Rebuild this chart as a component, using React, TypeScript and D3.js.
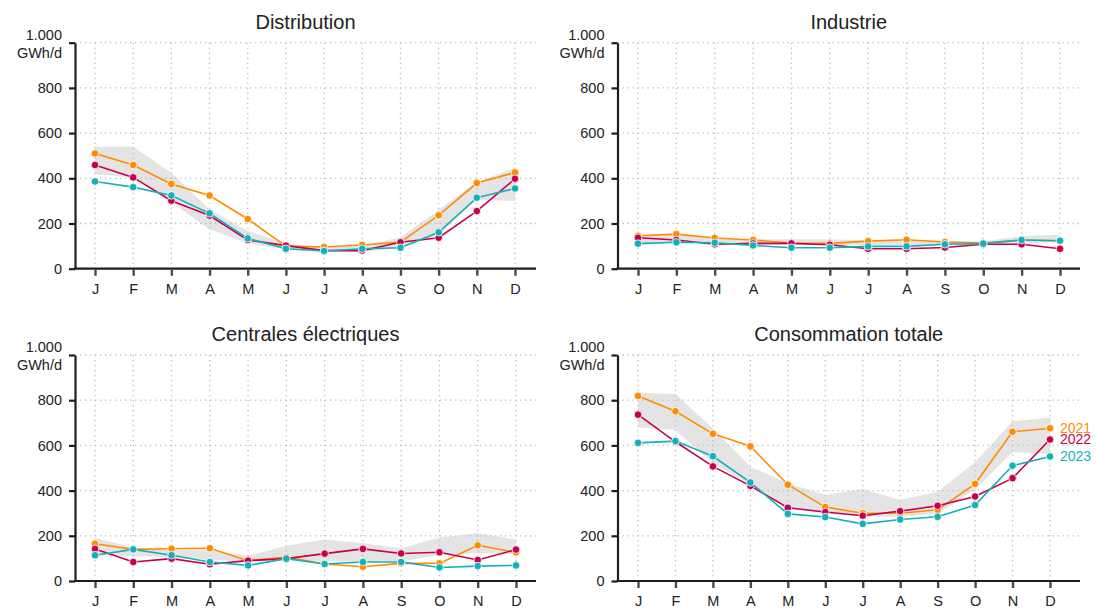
import * as d3 from "d3";
import { useEffect, useRef } from "react";

// Monate und Jahre
const months = ["J", "F", "M", "A", "M", "J", "J", "A", "S", "O", "N", "D"];
const years = ["2021", "2022", "2023"];
const colors = ["#ff8c00", "#c8004b", "#14b0b8"];
const yTicks = [0, 200, 400, 600, 800, 1000];

// Distribution
const dist2021 = [510, 459, 375, 324, 220, 100, 96, 105, 118, 236, 379, 426];
const dist2022 = [459, 404, 301, 235, 127, 102, 80, 80, 117, 137, 255, 398];
const dist2023 = [386, 361, 324, 245, 134, 88, 78, 88, 93, 161, 314, 355];
const distHigh = [540, 540, 425, 262, 167, 110, 95, 100, 139, 260, 385, 444];
const distLow = [418, 405, 294, 175, 112, 85, 75, 75, 90, 149, 304, 300];

// Industrie
const ind2021 = [146, 153, 136, 127, 114, 112, 122, 128, 118, 114, 127, 124];
const ind2022 = [137, 127, 108, 112, 112, 106, 88, 88, 94, 108, 108, 88];
const ind2023 = [111, 117, 115, 103, 93, 93, 99, 99, 108, 111, 127, 124];
const indHigh = [150, 150, 135, 130, 130, 130, 125, 125, 122, 120, 145, 150];
const indLow = [105, 118, 108, 105, 105, 105, 105, 105, 105, 110, 112, 118];

// Centrales électriques
const cen2021 = [165, 140, 143, 145, 90, 106, 75, 63, 78, 78, 158, 127];
const cen2022 = [142, 84, 99, 74, 90, 99, 121, 142, 122, 127, 93, 139];
const cen2023 = [114, 140, 114, 84, 69, 99, 75, 84, 84, 60, 66, 69];
const cenHigh = [190, 148, 137, 135, 112, 156, 184, 167, 145, 193, 211, 184];
const cenLow = [115, 110, 105, 93, 86, 93, 86, 86, 86, 115, 122, 122];

// Consommation totale
const tot2021 = [819, 751, 651, 596, 426, 327, 300, 300, 315, 430, 660, 676];
const tot2022 = [736, 616, 507, 421, 324, 305, 289, 309, 333, 374, 455, 626];
const tot2023 = [611, 619, 552, 436, 297, 283, 253, 272, 284, 336, 510, 551];
const totHigh = [833, 827, 675, 506, 432, 381, 407, 358, 395, 525, 707, 723];
const totLow = [680, 668, 521, 425, 322, 299, 285, 284, 299, 405, 571, 561];

const panels = [
    { title: "Distribution", series: [dist2021, dist2022, dist2023], high: distHigh, low: distLow, left: 75, first: 95, last: 515, right: 536, top: 42.7, bottom: 268.7, legend: false },
    { title: "Industrie", series: [ind2021, ind2022, ind2023], high: indHigh, low: indLow, left: 617.5, first: 638, last: 1060, right: 1080, top: 42.7, bottom: 268.7, legend: false },
    { title: "Centrales électriques", series: [cen2021, cen2022, cen2023], high: cenHigh, low: cenLow, left: 75, first: 95, last: 516, right: 536, top: 355, bottom: 581, legend: false },
    { title: "Consommation totale", series: [tot2021, tot2022, tot2023], high: totHigh, low: totLow, left: 617.5, first: 638, last: 1050, right: 1080, top: 355, bottom: 581, legend: true }
];

const width = 1096;
const height = 608;
const font = "'Liberation Sans', Arial, sans-serif";

const App = () => {
    const ref = useRef(null);

    useEffect(() => {
        const svg = d3.select(ref.current);
        svg.selectAll("*").remove();
        svg.attr("width", width).attr("height", height);

        panels.forEach(p => {
            const g = svg.append("g");
            const x = d3.scalePoint().domain(d3.range(12)).range([p.first, p.last]);
            const y = d3.scaleLinear().domain([0, 1000]).range([p.bottom, p.top]);

            // Band (Spannweite Vorjahre)
            const area = d3.area()
                .x((d, i) => x(i))
                .y0((d, i) => y(p.low[i]))
                .y1((d, i) => y(p.high[i]));
            g.append("path")
                .attr("d", area(p.high))
                .attr("fill", "#e4e4e4");

            // Gitter
            g.selectAll(".hgrid")
                .data(yTicks.slice(1))
                .enter()
                .append("line")
                .attr("x1", p.left)
                .attr("x2", p.right)
                .attr("y1", d => y(d))
                .attr("y2", d => y(d))
                .attr("stroke", "#bdbdbd")
                .attr("stroke-width", 1.3)
                .attr("stroke-dasharray", "1.3,3.7");
            g.selectAll(".vgrid")
                .data(d3.range(12))
                .enter()
                .append("line")
                .attr("x1", d => x(d))
                .attr("x2", d => x(d))
                .attr("y1", y(1000))
                .attr("y2", y(0))
                .attr("stroke", "#bdbdbd")
                .attr("stroke-width", 1.3)
                .attr("stroke-dasharray", "1.3,3.7");

            // Achsen
            const yAxis = d3.axisLeft(y)
                .tickValues(yTicks)
                .tickSize(6)
                .tickSizeOuter(0)
                .tickPadding(7)
                .tickFormat(d => (d === 1000 ? "" : String(d)));
            const ya = g.append("g")
                .attr("transform", `translate(${p.left},0)`)
                .call(yAxis);
            ya.select(".domain").attr("stroke", "#1e1e1e").attr("stroke-width", 2.2);
            ya.selectAll(".tick line").attr("stroke", "#1e1e1e").attr("stroke-width", 2.2);
            ya.selectAll(".tick text")
                .attr("font-size", 14.5)
                .attr("font-family", font)
                .attr("fill", "#222");

            g.append("text")
                .attr("x", p.left - 13)
                .attr("y", y(1000) - 8)
                .attr("dy", "0.35em")
                .attr("text-anchor", "end")
                .attr("font-size", 14.5)
                .attr("font-family", font)
                .attr("fill", "#222")
                .text("1.000");
            g.append("text")
                .attr("x", p.left - 13)
                .attr("y", y(1000) + 10)
                .attr("dy", "0.35em")
                .attr("text-anchor", "end")
                .attr("font-size", 14.5)
                .attr("font-family", font)
                .attr("fill", "#222")
                .text("GWh/d");

            g.append("line")
                .attr("x1", p.left - 1)
                .attr("x2", p.right)
                .attr("y1", y(0))
                .attr("y2", y(0))
                .attr("stroke", "#1e1e1e")
                .attr("stroke-width", 2.2);

            const xAxis = d3.axisBottom(x)
                .tickSize(6)
                .tickPadding(8)
                .tickFormat(i => months[i]);
            const xa = g.append("g")
                .attr("transform", `translate(0,${y(0) + 1})`)
                .call(xAxis);
            xa.select(".domain").remove();
            xa.selectAll(".tick line").attr("stroke", "#4a4a4a").attr("stroke-width", 2.4);
            xa.selectAll(".tick text")
                .attr("font-size", 14.5)
                .attr("font-family", font)
                .attr("fill", "#222");

            // Titel
            g.append("text")
                .attr("x", (p.left + p.right) / 2)
                .attr("y", p.top - 21)
                .attr("dy", "0.35em")
                .attr("text-anchor", "middle")
                .attr("font-size", 20)
                .attr("font-family", font)
                .attr("fill", "#222")
                .text(p.title);

            // Linien und Punkte
            const line = d3.line().x((d, i) => x(i)).y(d => y(d));
            p.series.forEach((s, k) => {
                g.append("path")
                    .attr("d", line(s))
                    .attr("fill", "none")
                    .attr("stroke", colors[k])
                    .attr("stroke-width", 1.6);
                g.selectAll(`.dot-${k}`)
                    .data(s)
                    .enter()
                    .append("circle")
                    .attr("cx", (d, i) => x(i))
                    .attr("cy", d => y(d))
                    .attr("r", 3.8)
                    .attr("fill", colors[k])
                    .attr("stroke", "#fff")
                    .attr("stroke-width", 0.8);

                if (p.legend) {
                    g.append("text")
                        .attr("x", x(11) + 10)
                        .attr("y", y(s[11]))
                        .attr("dy", "0.35em")
                        .attr("font-size", 14)
                        .attr("font-family", font)
                        .attr("fill", colors[k])
                        .text(years[k]);
                }
            });
        });
    }, []);

    return (
        <div style={{ position: "absolute", left: 0, top: 0, width: `${width}px`, height: `${height}px`, background: "#fff" }}>
            <svg ref={ref} style={{ display: "block" }}></svg>
        </div>
    );
};

export default App;
